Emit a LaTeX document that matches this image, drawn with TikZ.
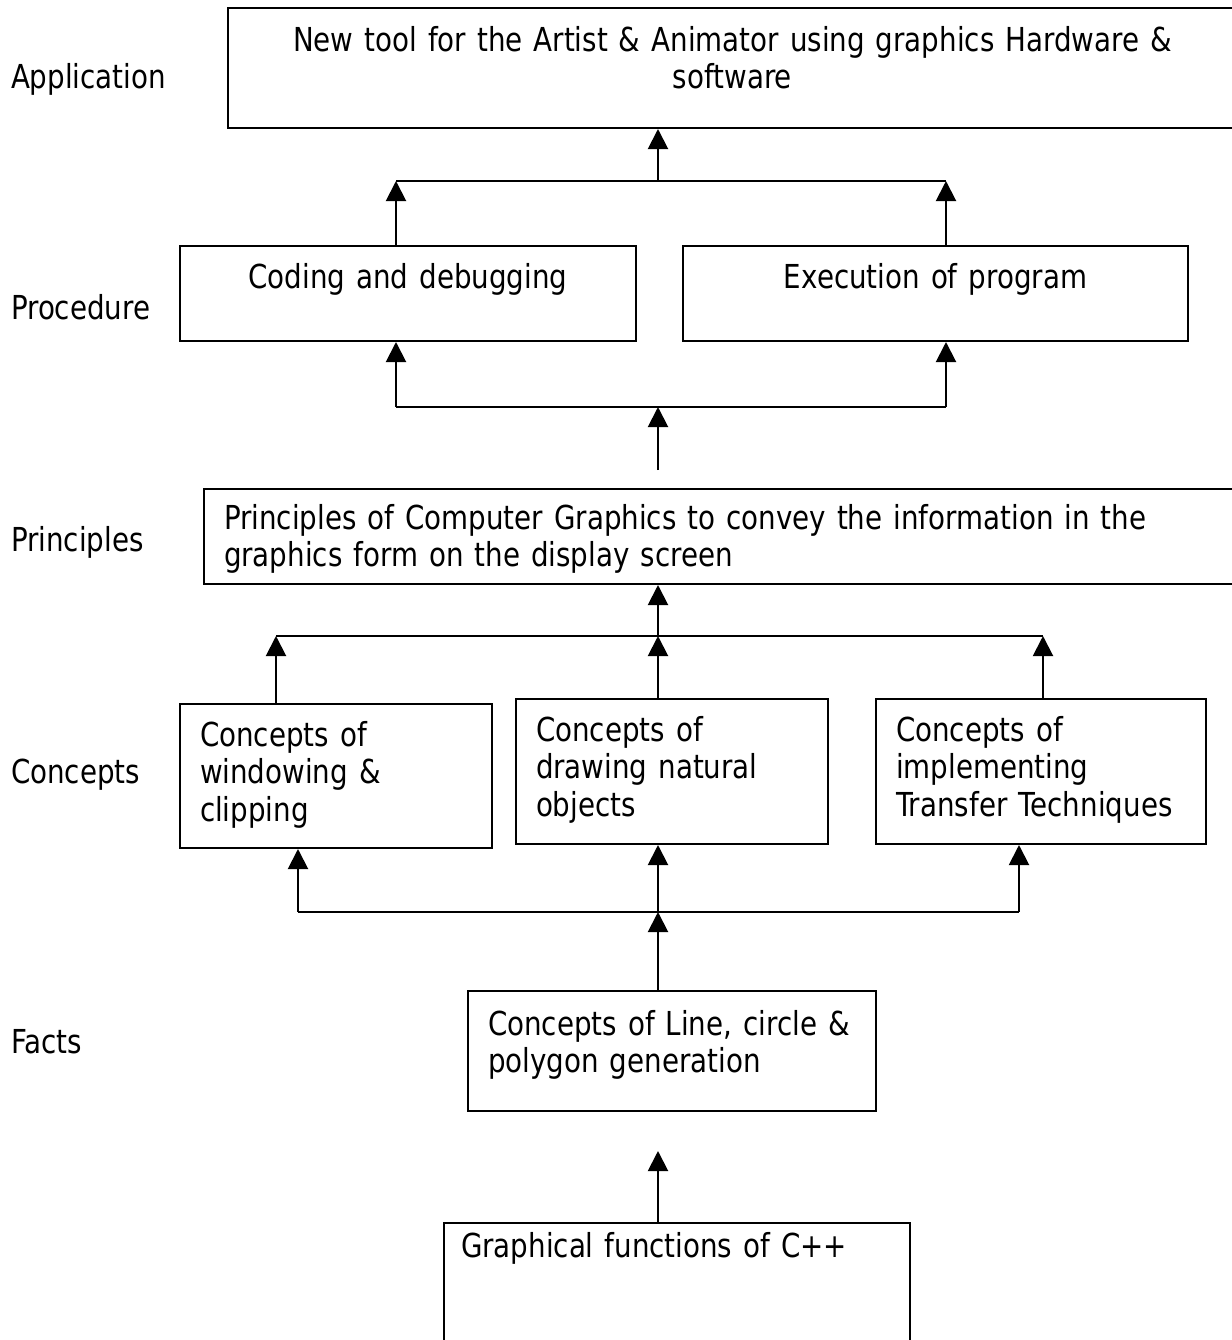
\documentclass[tikz,border=0pt]{standalone}
\usepackage{fontspec}
\setmainfont{DejaVu Sans}[FakeStretch=0.84]
\usepackage{tikz}
\usetikzlibrary{arrows.meta}

\begin{document}
\begin{tikzpicture}[x=0.5pt, y=-0.5pt, line width=1pt,
  every node/.style = {font=\fontsize{16.5pt}{18.75pt}\selectfont},
  box/.style = {draw, anchor=north west, inner xsep=0pt, inner ysep=0pt, align=center},
  lbox/.style = {box, inner xsep=10pt, align=left},
  lvl/.style = {anchor=base west, inner sep=0pt},
  up/.style = {-{Triangle[width=10pt, length=10pt]}}]
\useasboundingbox (0,0) rectangle (1232,1340);
\node[lvl] (l1) at (10,88) {Application};
\node[lvl] (l2) at (10,319) {Procedure};
\node[lvl] (l3) at (10,551) {Principles};
\node[lvl] (l4) at (10,783) {Concepts};
\node[lvl] (l5) at (10,1053) {Facts};
\node[box, text width=504.5pt, text height=21.5pt, text depth=38.5pt] (app) at (227,7) {New tool for the Artist \& Animator using graphics Hardware \&\\software};
\node[box, text width=228pt, text height=21pt, text depth=26.5pt] (code) at (179,245) {Coding and debugging};
\node[box, text width=252.5pt, text height=21pt, text depth=26.5pt] (exec) at (682,245) {Execution of program};
\node[lbox, text width=500pt, text height=20pt, text depth=27.5pt] (princ) at (203,488) {Principles of Computer Graphics to convey the information in the\\graphics form on the display screen};
\node[lbox, text width=136pt, text height=21pt, text depth=51pt] (win) at (179,703) {Concepts of\\windowing \&\\clipping};
\node[lbox, text width=136pt, text height=21pt, text depth=51.5pt] (nat) at (515,698) {Concepts of\\drawing natural\\objects};
\node[lbox, text width=145pt, text height=21pt, text depth=51.5pt] (tech) at (875,698) {Concepts of\\implementing\\Transfer Techniques};
\node[lbox, text width=184pt, text height=22pt, text depth=38pt] (facts) at (467,990) {Concepts of Line, circle \&\\polygon generation};
\node[lbox, inner xsep=8.5pt, text width=216pt, text height=17pt, text depth=45pt] (graph) at (443,1222) {Graphical functions of C++};
\coordinate (t1) at (658,181);
\coordinate (t1a) at (396,181);
\coordinate (t1b) at (946,181);
\coordinate (t2) at (658,407);
\coordinate (t2a) at (396,407);
\coordinate (t2b) at (946,407);
\coordinate (s2) at (658,470);
\coordinate (t3) at (658,636);
\coordinate (t3a) at (276,636);
\coordinate (t3b) at (1043,636);
\coordinate (t4) at (658,912);
\coordinate (t4a) at (298,912);
\coordinate (t4b) at (1019,912);
\coordinate (s5) at (658,1151);
\draw[up] (t1) -- (t1 |- app.south);
\draw (t1a) -- (t1b);
\draw[up] (t1a |- code.north) -- (t1a);
\draw[up] (t1b |- exec.north) -- (t1b);
\draw (t2a) -- (t2b);
\draw[up] (t2a) -- (t2a |- code.south);
\draw[up] (t2b) -- (t2b |- exec.south);
\draw[up] (s2) -- (t2);
\draw (t3a) -- (t3b);
\draw[up] (t3) -- (t3 |- princ.south);
\draw[up] (t3a |- win.north) -- (t3a);
\draw[up] (t3 |- nat.north) -- (t3);
\draw[up] (t3b |- tech.north) -- (t3b);
\draw (t4a) -- (t4b);
\draw[up] (t4a) -- (t4a |- win.south);
\draw[up] (t4) -- (t4 |- nat.south);
\draw[up] (t4b) -- (t4b |- tech.south);
\draw[up] (t4 |- facts.north) -- (t4);
\draw[up] (s5 |- graph.north) -- (s5);
\end{tikzpicture}
\end{document}
